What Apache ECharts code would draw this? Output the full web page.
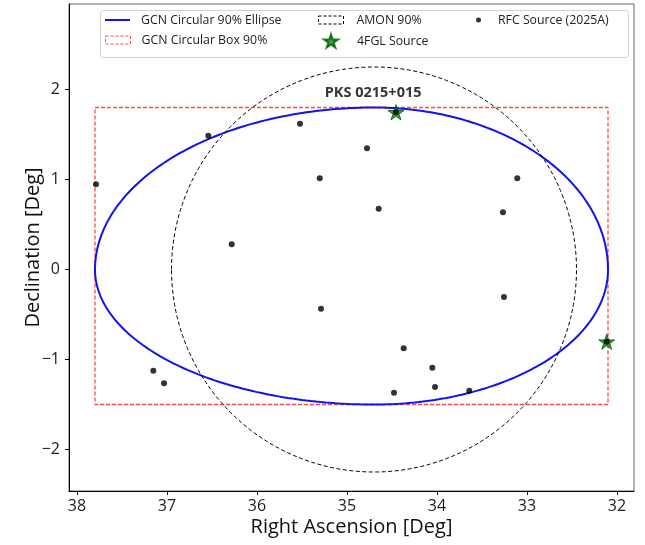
<!DOCTYPE html>
<html>
<head>
<meta charset="utf-8">
<script src="https://cdn.jsdelivr.net/npm/echarts@6.0.0/dist/echarts.min.js"></script>
<style>
  html, body { margin: 0; padding: 0; background: #fff; }
  #chart { width: 645px; height: 545px; }
</style>
</head>
<body>
<div id="chart"></div>
<script>
// --- data (degrees) ---
// GCN circular 90% region: centre, RA +/- extent, Dec +/- extent
const ellipseCenter = [34.70, 0.0]
const ellipseRaErr = [3.10, 2.60]   // [+RA (drawn left), -RA (drawn right)]
const ellipseDecErr = [1.80, 1.50]  // [+Dec, -Dec]

// GCN circular box 90%
const boxRa = [32.10, 37.80]
const boxDec = [-1.50, 1.80]

// AMON 90% circle
const amonCenter = [34.70, 0.0]
const amonRadius = 2.25

// 4FGL sources [RA, Dec]
const fglRa = [34.456, 32.114]
const fglDec = [1.747, -0.802]

// RFC (2025A) sources
const rfcRa = [36.541, 35.522, 34.778, 35.303, 34.648, 33.108, 33.267, 36.281, 35.289,
  33.256, 34.370, 34.052, 34.022, 34.478, 33.641, 37.152, 37.033, 37.789, 34.456, 32.114]
const rfcDec = [1.487, 1.620, 1.347, 1.013, 0.676, 1.013, 0.636, 0.280, -0.436,
  -0.306, -0.876, -1.091, -1.306, -1.369, -1.347, -1.124, -1.264, 0.947, 1.747, -0.802]

const annotText = 'PKS 0215+015'
const annotPos = [34.71, 1.96]

const xTicks = [32, 33, 34, 35, 36, 37, 38]
const yTicks = [-2, -1, 0, 1, 2]

// --- outlines built from the region parameters ---
function ellipsePoints() {
  const pts = []
  for (let i = 0; i <= 360; i++) {
    const t = i * Math.PI / 180
    const c = Math.cos(t), s = Math.sin(t)
    const ra = ellipseCenter[0] + (c >= 0 ? ellipseRaErr[0] : ellipseRaErr[1]) * c
    const dec = ellipseCenter[1] + (s >= 0 ? ellipseDecErr[0] : ellipseDecErr[1]) * s
    pts.push([ra, dec])
  }
  return pts
}

function circlePoints() {
  const pts = []
  for (let i = 0; i <= 360; i++) {
    const t = i * Math.PI / 180
    pts.push([amonCenter[0] + amonRadius * Math.cos(t), amonCenter[1] + amonRadius * Math.sin(t)])
  }
  return pts
}

const boxPoints = [
  [boxRa[0], boxDec[0]], [boxRa[1], boxDec[0]], [boxRa[1], boxDec[1]],
  [boxRa[0], boxDec[1]], [boxRa[0], boxDec[0]]
]

const STAR = 'path://M0,-1L0.2245,-0.309L0.951,-0.309L0.3633,0.118L0.5878,0.809L0,0.382L-0.5878,0.809L-0.3633,0.118L-0.951,-0.309L-0.2245,-0.309Z'
const FONT = 'Open Sans'
const minus = v => String(v).replace('-', '\u2212')

const boxColor = '#ff4a4a'
const ellipseColor = '#1212ee'

// one legend per entry so each handle can have its own size
function legendAt(left, top, itemWidth, itemHeight, item, pad) {
  return {
    orient: 'vertical', left, top, itemWidth, itemHeight, itemGap: 0, padding: 0, z: 10,
    textStyle: { fontFamily: FONT, fontSize: 12.3, color: '#222', lineHeight: 16, padding: [0, 0, 0, pad] },
    data: [item]
  }
}

const option = {
  animation: false,
  backgroundColor: '#fff',
  grid: { left: 69, top: 4, width: 565, height: 487, show: true, borderColor: '#666', borderWidth: 1 },
  xAxis: {
    type: 'value', inverse: true, min: 31.811, max: 38.089,
    name: 'Right Ascension [Deg]', nameLocation: 'middle', nameGap: 26, nameMoveOverlap: false,
    nameTextStyle: { fontFamily: FONT, fontSize: 20, color: '#111' },
    axisLine: { onZero: false, lineStyle: { color: '#000', width: 1 } },
    axisTick: { length: 4, lineStyle: { color: '#000' }, customValues: xTicks },
    axisLabel: { fontFamily: FONT, fontSize: 16, color: '#222', margin: 7, customValues: xTicks },
    splitLine: { show: false }
  },
  yAxis: {
    type: 'value', min: -2.461, max: 2.95,
    name: 'Declination [Deg]', nameLocation: 'middle', nameGap: 26, nameRotate: 90, nameMoveOverlap: false,
    nameTextStyle: { fontFamily: FONT, fontSize: 20, color: '#111' },
    axisLine: { show: true, onZero: false, lineStyle: { color: '#000', width: 1 } },
    axisTick: { show: true, length: 4, lineStyle: { color: '#000' }, customValues: yTicks },
    axisLabel: { fontFamily: FONT, fontSize: 16, color: '#222', margin: 9, customValues: yTicks, formatter: minus },
    splitLine: { show: false }
  },
  graphic: [{
    type: 'rect', left: 100, top: 10, z: 3,
    shape: { width: 528, height: 47, r: 3 },
    style: { fill: 'rgba(255,255,255,0.85)', stroke: '#d0d0d0', lineWidth: 1 }
  }],
  legend: [
    legendAt(105, 12, 25, 2, { name: 'GCN Circular 90% Ellipse', icon: 'rect', itemStyle: { color: ellipseColor, borderWidth: 0 } }, 6),
    legendAt(105, 32, 25, 8, { name: 'GCN Circular Box 90%', icon: 'rect',
      itemStyle: { color: 'rgba(0,0,0,0)', borderColor: boxColor, borderWidth: 1, borderType: [3, 2] } }, 6),
    legendAt(318, 12, 25, 8, { name: 'AMON 90%', icon: 'rect',
      itemStyle: { color: 'rgba(0,0,0,0)', borderColor: '#000', borderWidth: 1, borderType: [3, 2] } }, 8),
    legendAt(323, 33, 14, 14, { name: '4FGL Source', icon: STAR }, 14),
    legendAt(476, 12, 25, 5, { name: 'RFC Source (2025A)', icon: 'circle' }, 2)
  ],
  series: [
    {
      name: 'GCN Circular Box 90%', type: 'line', data: boxPoints, showSymbol: false, symbol: 'none',
      lineStyle: { color: boxColor, width: 1.3, type: [4, 2] }, itemStyle: { color: boxColor }, z: 2
    },
    {
      name: 'GCN Circular 90% Ellipse', type: 'line', data: ellipsePoints(), showSymbol: false, symbol: 'none',
      lineStyle: { color: ellipseColor, width: 2 }, itemStyle: { color: ellipseColor }, z: 3
    },
    {
      name: 'AMON 90%', type: 'line', data: circlePoints(), showSymbol: false, symbol: 'none',
      lineStyle: { color: '#000', width: 1, type: [4, 2.5] }, itemStyle: { color: '#000' }, z: 3
    },
    {
      name: '4FGL Source', type: 'scatter', symbol: STAR, symbolSize: 16, symbolKeepAspect: true,
      data: fglRa.map((ra, i) => [ra, fglDec[i]]),
      itemStyle: { color: '#0a8a0a', borderColor: '#035a03', borderWidth: 1 }, z: 4
    },
    {
      name: 'RFC Source (2025A)', type: 'scatter', symbol: 'circle', symbolSize: 6,
      data: rfcRa.map((ra, i) => [ra, rfcDec[i]]),
      itemStyle: { color: '#000' }, z: 5
    },
    {
      name: 'annotation', type: 'scatter', symbolSize: 1, itemStyle: { color: 'rgba(0,0,0,0)' }, silent: true,
      data: [annotPos],
      label: { show: true, position: 'inside', formatter: annotText, fontFamily: FONT, fontSize: 14.5, fontWeight: 'bold', color: '#000' },
      z: 6
    }
  ]
}

const chart = echarts.init(document.getElementById('chart'), null, { renderer: 'canvas' })
chart.setOption(option)
</script>
</body>
</html>
